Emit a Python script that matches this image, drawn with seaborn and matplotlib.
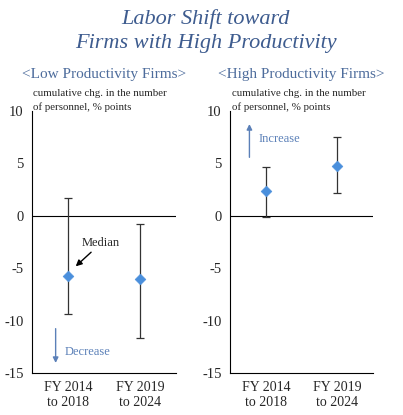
import matplotlib
matplotlib.use("Agg")
import matplotlib.pyplot as plt
import numpy as np
import pandas as pd
import seaborn as sns

# values
periods = ["FY 2014\nto 2018", "FY 2019\nto 2024"]
low_median = [-5.7, -6.0]
low_upper = [1.7, -0.8]
low_lower = [-9.4, -11.7]
high_median = [2.4, 4.7]
high_upper = [4.6, 7.5]
high_lower = [-0.1, 2.2]
y_ticks = [10, 5, 0, -5, -10, -15]

TITLE_BLUE = "#3e5c8f"
SUB_BLUE = "#4d6c9c"
MARK_BLUE = "#4a8fdc"
ARROW_BLUE = "#5b80b8"


def make_frame(median, upper, lower) -> pd.DataFrame:
    df = pd.DataFrame({"period": periods, "median": median,
                       "upper": upper, "lower": lower})
    df["pos"] = np.arange(len(periods)) + 0.5
    return df


def draw_panel(ax, df: pd.DataFrame, subtitle: str) -> None:
    ax.axhline(0, color="black", lw=0.8, zorder=1)
    ax.errorbar(df["pos"], df["median"],
                yerr=[df["median"] - df["lower"], df["upper"] - df["median"]],
                fmt="none", ecolor="#333333", elinewidth=0.9, capsize=3,
                capthick=0.9, zorder=2)
    sns.scatterplot(data=df, x="pos", y="median", marker="D", s=30,
                    color=MARK_BLUE, edgecolor=MARK_BLUE, ax=ax, zorder=3)
    ax.set_xlim(0, 2)
    ax.set_ylim(-15, 10)
    ax.set_yticks(y_ticks)
    ax.set_yticklabels([str(t) for t in y_ticks])
    ax.set_xticks([0, 1, 2])
    ax.set_xticklabels([])
    ax.set_xticks(df["pos"], minor=True)
    ax.set_xticklabels(df["period"], minor=True)
    ax.tick_params(axis="x", which="major", direction="in", length=3, width=0.8)
    ax.tick_params(axis="x", which="minor", length=0, pad=6, labelsize=10)
    ax.tick_params(axis="y", direction="out", length=3, width=0.8,
                   labelsize=10.5, pad=3)
    ax.set_xlabel("")
    ax.set_ylabel("")
    for side in ["top", "right"]:
        ax.spines[side].set_visible(False)
    for side in ["left", "bottom"]:
        ax.spines[side].set_color("black")
        ax.spines[side].set_linewidth(0.8)
    ax.text(0.01, 0.997, "cumulative chg. in the number\nof personnel, % points",
            transform=ax.transAxes, ha="left", va="bottom", fontsize=7.8,
            linespacing=1.45)
    ax.text(0.5, 1.14, subtitle, transform=ax.transAxes, ha="center",
            va="center", fontsize=11, color=SUB_BLUE)


def main():
    sns.set_style("white")
    plt.rcParams["font.family"] = ["Liberation Serif", "DejaVu Serif"]
    plt.rcParams["axes.unicode_minus"] = False

    fig = plt.figure(figsize=(4.03, 4.15), dpi=100)
    ax_low = fig.add_axes([0.079, 0.101, 0.358, 0.632])
    ax_high = fig.add_axes([0.571, 0.101, 0.355, 0.632])

    draw_panel(ax_low, make_frame(low_median, low_upper, low_lower),
               "<Low Productivity Firms>")
    draw_panel(ax_high, make_frame(high_median, high_upper, high_lower),
               "<High Productivity Firms>")

    # annotations
    ax_low.annotate("", xy=(0.58, -5.0), xytext=(0.85, -3.3),
                    arrowprops=dict(arrowstyle="-|>", color="black", lw=1,
                                    mutation_scale=9))
    ax_low.text(0.95, -2.6, "Median", ha="center", va="center", fontsize=9)
    ax_low.annotate("", xy=(0.33, -14.3), xytext=(0.33, -10.5),
                    arrowprops=dict(arrowstyle="-|>", color=ARROW_BLUE, lw=1,
                                    mutation_scale=8))
    ax_low.text(0.46, -13.0, "Decrease", ha="left", va="center", fontsize=9,
                color=ARROW_BLUE)
    ax_high.annotate("", xy=(0.27, 9.0), xytext=(0.27, 5.3),
                     arrowprops=dict(arrowstyle="-|>", color=ARROW_BLUE, lw=1,
                                     mutation_scale=8))
    ax_high.text(0.4, 7.3, "Increase", ha="left", va="center", fontsize=9,
                 color=ARROW_BLUE)

    fig.text(0.51, 0.977, "Labor Shift toward\nFirms with High Productivity",
             ha="center", va="top", fontsize=16, style="italic",
             color=TITLE_BLUE, linespacing=1.35)

    fig.savefig("out.png", dpi=100)


if __name__ == "__main__":
    main()
